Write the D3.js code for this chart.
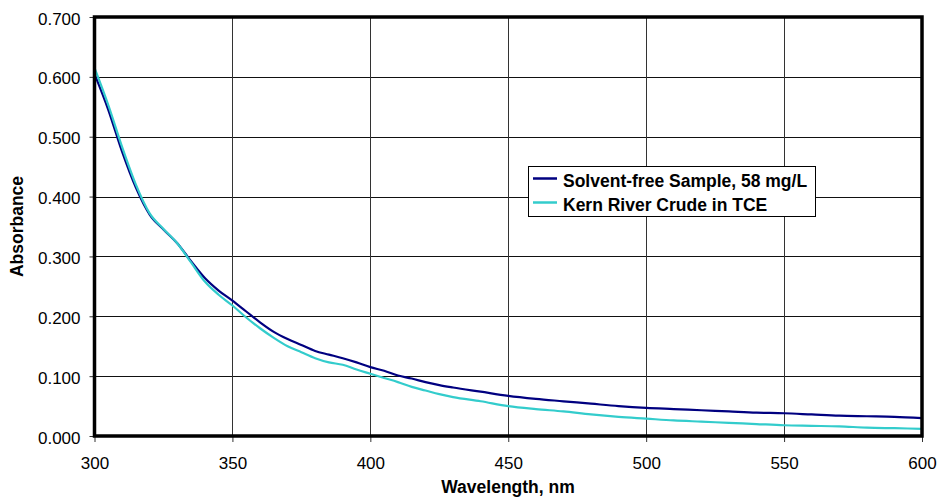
<!DOCTYPE html>
<html><head><meta charset="utf-8">
<script src="https://cdn.jsdelivr.net/npm/d3@7/dist/d3.min.js"></script>
<style>body{margin:0;background:#fff}svg{display:block;font-family:"Liberation Sans",Arial,sans-serif}</style>
</head><body><svg id="c" width="937" height="502"></svg>
<script>
const wavelengths = [300,305,310,315,320,325,330,335,340,345,350,355,360,365,370,375,380,385,390,395,400,405,410,415,420,425,430,440,450,460,470,480,490,500,510,520,530,540,550,560,570,580,590,600];
const solventFree = [0.605,0.545,0.475,0.415,0.370,0.345,0.322,0.292,0.264,0.243,0.226,0.208,0.190,0.174,0.162,0.152,0.142,0.136,0.130,0.123,0.115,0.109,0.101,0.096,0.090,0.085,0.081,0.074,0.067,0.062,0.058,0.054,0.050,0.047,0.045,0.043,0.041,0.039,0.038,0.036,0.034,0.033,0.032,0.030];
const kernRiver = [0.615,0.553,0.483,0.420,0.372,0.346,0.322,0.290,0.258,0.236,0.218,0.198,0.180,0.164,0.150,0.140,0.130,0.123,0.119,0.111,0.104,0.097,0.090,0.082,0.076,0.070,0.065,0.058,0.050,0.045,0.041,0.036,0.032,0.029,0.026,0.024,0.022,0.020,0.018,0.017,0.016,0.014,0.013,0.012];
const seriesNames = ["Solvent-free Sample, 58 mg/L","Kern River Crude in TCE"];
const seriesColors = ["#000080","#33cccc"];
const xTicks = [300,350,400,450,500,550,600];
const yTicks = [0,0.1,0.2,0.3,0.4,0.5,0.6,0.7];
const xTitle = "Wavelength, nm", yTitle = "Absorbance";

const svg = d3.select("#c");
const L=94.5, R=922, T=17, B=436;
const x = d3.scaleLinear().domain([300,600]).range([L,R]);
const y = d3.scaleLinear().domain([0,0.7]).range([B,T]);

// gridlines
svg.append("g").selectAll("line").data(yTicks.slice(1,-1)).join("line")
  .attr("x1",L).attr("x2",R).attr("y1",d=>Math.round(y(d))+0.5).attr("y2",d=>Math.round(y(d))+0.5)
  .attr("stroke","#111").attr("stroke-width",1);
svg.append("g").selectAll("line").data(xTicks.slice(1,-1)).join("line")
  .attr("y1",T).attr("y2",B).attr("x1",d=>Math.round(x(d))+0.5).attr("x2",d=>Math.round(x(d))+0.5)
  .attr("stroke","#333").attr("stroke-width",1);

// axes
const yAxis = svg.append("g").attr("transform",`translate(${L},0)`)
  .call(d3.axisLeft(y).tickValues(yTicks).tickFormat(d3.format(".3f")).tickSize(5).tickPadding(9));
const xAxis = svg.append("g").attr("transform",`translate(0,${B})`)
  .call(d3.axisBottom(x).tickValues(xTicks).tickFormat(d3.format("d")).tickSize(6).tickPadding(15));
[yAxis,xAxis].forEach(a=>{
  a.select(".domain").remove();
  a.selectAll(".tick line").attr("stroke","#333");
  a.selectAll("text").attr("font-size",17).attr("fill","#000").attr("font-family","'Liberation Sans',Arial,sans-serif");
});
yAxis.selectAll("text").attr("dy","0.42em");

// lines
const line = d3.line().x((d,i)=>x(wavelengths[i])).y(d=>y(d)).curve(d3.curveMonotoneX);
[solventFree,kernRiver].forEach((s,i)=>{
  svg.append("path").datum(s).attr("d",line).attr("fill","none")
    .attr("stroke",seriesColors[i]).attr("stroke-width",2.2);
});
// redraw dark on top for early overlap? keep cyan above as in reference
// frame
svg.append("rect").attr("x",L).attr("y",T).attr("width",R-L).attr("height",B-T)
  .attr("fill","none").attr("stroke","#000").attr("stroke-width",3.5);

// titles
svg.append("text").attr("x",508).attr("y",493).attr("text-anchor","middle")
  .attr("font-weight","bold").attr("font-size",17.5).text(xTitle);
svg.append("text").attr("transform","translate(23,226.5) rotate(-90)").attr("text-anchor","middle")
  .attr("font-weight","bold").attr("font-size",17.5).text(yTitle);

// legend
const lg = svg.append("g");
lg.append("rect").attr("x",528.5).attr("y",166.5).attr("width",287).attr("height",50)
  .attr("fill","#fff").attr("stroke","#000").attr("stroke-width",1);
seriesNames.forEach((n,i)=>{
  const yy = 178.5 + i*24;
  lg.append("line").attr("x1",533).attr("x2",557).attr("y1",yy).attr("y2",yy)
    .attr("stroke",seriesColors[i]).attr("stroke-width",2.5);
  lg.append("text").attr("x",563).attr("y",yy+8).attr("font-weight","bold").attr("font-size",17.5).text(n);
});
</script></body></html>
